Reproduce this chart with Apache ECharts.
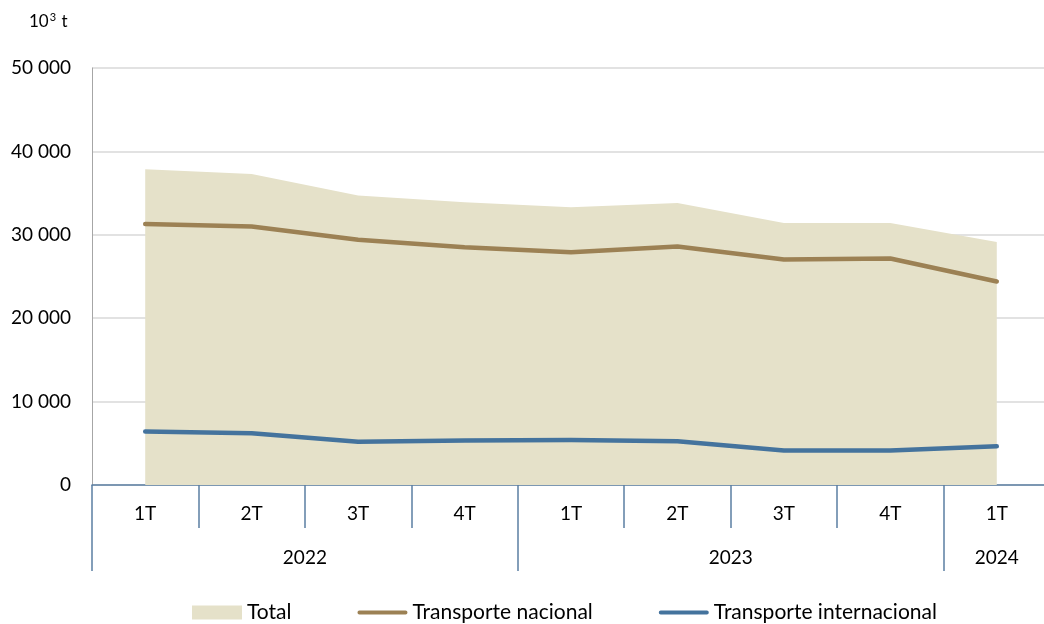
<!DOCTYPE html>
<html>
<head>
<meta charset="utf-8">
<script src="https://cdn.jsdelivr.net/npm/echarts@6/dist/echarts.min.js"></script>
<style>html,body{margin:0;padding:0;background:#fff;overflow:hidden}</style>
</head>
<body>
<div id="chart" style="width:1044px;height:624px"></div>
<script type="text/javascript">
// valores em 10^3 t
var quarters = ['1T', '2T', '3T', '4T', '1T', '2T', '3T', '4T', '1T'];
var years = ['2022', '2023', '2024'];
var yearStarts = [0, 4, 8];
var yearCenters = [2, 6, 8.5];
var total = [37850, 37300, 34700, 33900, 33300, 33800, 31400, 31400, 29150];
var nacional = [31300, 31000, 29400, 28500, 27900, 28600, 27050, 27150, 24400];
var internacional = [6400, 6200, 5200, 5350, 5400, 5250, 4150, 4150, 4650];

var font = 'Lato';
var axisBlue = '#5b7fa3';
// linha de legenda fina com pontas redondas, dentro de uma caixa 52x14
var lineIcon = 'path://M0,0L0.01,0L0,0.01Z M2,5H50A2,2 0 0 1 50,9H2A2,2 0 0 1 2,5Z M0,14L0.01,14L0,13.99Z';

var myChart = echarts.init(document.getElementById('chart'));
var option = {
    textStyle: {fontFamily: font},
    title: {
        text: '10{sup|3} t',
        left: 24,
        top: 7,
        textStyle: {
            fontFamily: font, fontSize: 17, fontWeight: 'normal', color: '#000',
            rich: {sup: {fontFamily: font, fontSize: 11, verticalAlign: 'top', padding: [0, 1, 8, 1], color: '#000'}}
        }
    },
    grid: {left: 92, right: -6, top: 68, bottom: 139, outerBoundsMode: 'none'},
    legend: {
        top: 597,
        left: 187,
        itemGap: 66,
        itemWidth: 50,
        itemHeight: 14,
        textStyle: {fontFamily: font, fontSize: 21, color: '#000'},
        data: [
            {name: 'Total', icon: 'rect'},
            {name: 'Transporte nacional', icon: lineIcon},
            {name: 'Transporte internacional', icon: lineIcon}
        ]
    },
    xAxis: [
        {
            type: 'category',
            data: quarters,
            boundaryGap: true,
            position: 'bottom',
            axisLine: {lineStyle: {color: axisBlue, width: 1.5}},
            axisTick: {show: true, interval: 0, length: 43, lineStyle: {color: axisBlue, width: 1.5}},
            axisLabel: {interval: 0, margin: 19, fontSize: 19, color: '#000', fontFamily: font},
            splitLine: {show: false}
        },
        {
            type: 'value',
            min: 0,
            max: 9,
            position: 'bottom',
            offset: 0,
            axisLine: {show: false},
            axisTick: {show: true, customValues: yearStarts, length: 86, lineStyle: {color: axisBlue, width: 1.5}},
            axisLabel: {
                customValues: yearCenters,
                margin: 63,
                fontSize: 19,
                color: '#000',
                fontFamily: font,
                formatter: function (v) {
                    return years[yearCenters.indexOf(v)];
                }
            },
            splitLine: {show: false}
        }
    ],
    yAxis: {
        type: 'value',
        min: 0,
        max: 50000,
        interval: 10000,
        axisLine: {show: true, lineStyle: {color: '#a6a6a6', width: 1}},
        axisTick: {show: false},
        axisLabel: {
            margin: 21,
            fontSize: 19,
            color: '#000',
            fontFamily: font,
            formatter: function (v) {
                return String(v).replace(/\B(?=(\d{3})+(?!\d))/g, ' ');
            }
        },
        splitLine: {lineStyle: {color: '#d9d9d9', width: 1.5}}
    },
    series: [
        {
            name: 'Total',
            type: 'line',
            data: total,
            symbol: 'none',
            lineStyle: {width: 0},
            itemStyle: {color: '#e5e1c9'},
            areaStyle: {color: '#e5e1c9', opacity: 1}
        },
        {
            name: 'Transporte nacional',
            type: 'line',
            data: nacional,
            symbol: 'none',
            itemStyle: {color: '#9c8154'},
            lineStyle: {color: '#9c8154', width: 4.5, cap: 'round', join: 'round'}
        },
        {
            name: 'Transporte internacional',
            type: 'line',
            data: internacional,
            symbol: 'none',
            itemStyle: {color: '#44739d'},
            lineStyle: {color: '#44739d', width: 4.5, cap: 'round', join: 'round'}
        }
    ]
};
myChart.setOption(option);
</script>
</body>
</html>
